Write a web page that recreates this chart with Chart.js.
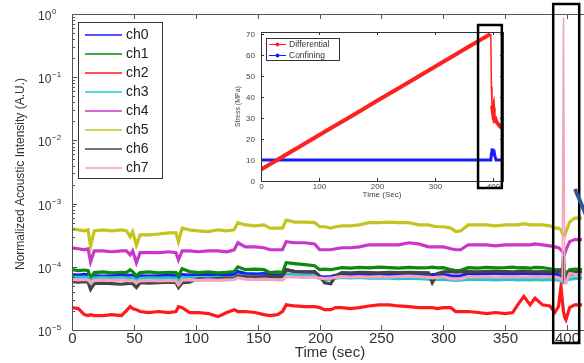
<!DOCTYPE html>
<html>
<head>
<meta charset="utf-8">
<script src="https://cdn.jsdelivr.net/npm/chart.js@4.4.0/dist/chart.umd.min.js"></script>
<style>
	html, body { margin: 0; padding: 0; background: #fff; overflow: hidden; }
	#wrap { position: relative; width: 584px; height: 363px; overflow: hidden; }
	#main { position: absolute; left: 0; top: 0; }
	#inset { position: absolute; left: 228px; top: 22px; background: #fff; }
</style>
</head>
<body>
<div id="wrap">
	<canvas id="main" width="592" height="363"></canvas>
	<canvas id="inset" width="284" height="180"></canvas>
</div>
<script>
/* time axis (sec), shared by all acoustic channels */
var timeSec = [0, 5, 10, 13, 15, 18, 25, 32, 40, 44,
	47, 49, 52, 55, 62, 70, 78, 84, 86, 89,
	95, 102, 110, 118, 125, 131, 134, 140, 148, 155,
	160, 166, 170, 173, 180, 188, 196, 200, 204, 209,
	213, 218, 225, 232, 240, 248, 256, 264, 272, 280,
	288, 291, 295, 300, 306, 310, 314, 320, 328, 335,
	342, 350, 356, 360, 365, 370, 374, 380, 386, 390,
	393, 395, 396, 397, 398, 399, 402, 406, 412];

/* normalized acoustic intensity per channel (A.U.) */
var ch0 = [7.5e-5, 7.4e-5, 7.6e-5, 7.5e-5, 6.3e-5, 7.2e-5, 7.1e-5, 7.2e-5, 7.3e-5, 7.2e-5,
	7.4e-5, 7.2e-5, 6.6e-5, 7.2e-5, 7.1e-5, 7.2e-5, 7.3e-5, 7.2e-5, 6.5e-5, 7.5e-5,
	7.4e-5, 7.5e-5, 7.6e-5, 7.4e-5, 7.5e-5, 7.6e-5, 8.4e-5, 7.8e-5, 7.7e-5, 7.8e-5,
	7.6e-5, 7.4e-5, 7.5e-5, 9.0e-5, 8.4e-5, 8.3e-5, 8.2e-5, 7.0e-5, 6.9e-5, 7.0e-5,
	7.3e-5, 7.5e-5, 7.4e-5, 7.6e-5, 7.5e-5, 7.4e-5, 7.6e-5, 7.5e-5, 7.6e-5, 7.5e-5,
	7.4e-5, 7.5e-5, 7.6e-5, 7.5e-5, 7.2e-5, 7.1e-5, 7.2e-5, 7.8e-5, 7.7e-5, 7.8e-5,
	7.9e-5, 7.8e-5, 7.7e-5, 7.8e-5, 7.9e-5, 7.8e-5, 7.7e-5, 7.8e-5, 7.7e-5, 7.8e-5,
	7.5e-5, 7.2e-5, 6.8e-5, 6.3e-5, 6.6e-5, 7.0e-5, 7.5e-5, 7.6e-5, 7.5e-5];
var ch1 = [9.0e-5, 8.7e-5, 8.9e-5, 8.7e-5, 6.7e-5, 8.1e-5, 8.3e-5, 8.0e-5, 8.2e-5, 8.1e-5,
	9.0e-5, 8.4e-5, 7.2e-5, 8.1e-5, 8.3e-5, 8.0e-5, 8.2e-5, 8.1e-5, 7.2e-5, 9.3e-5,
	8.4e-5, 8.1e-5, 8.3e-5, 8.0e-5, 8.2e-5, 8.4e-5, 1.0e-4, 9.0e-5, 9.2e-5, 9.0e-5,
	8.1e-5, 8.3e-5, 8.1e-5, 1.16e-4, 1.12e-4, 1.08e-4, 1.04e-4, 9.0e-5, 9.2e-5, 9.0e-5,
	9.3e-5, 9.7e-5, 9.5e-5, 9.8e-5, 9.6e-5, 9.9e-5, 9.7e-5, 9.5e-5, 9.8e-5, 9.6e-5,
	9.7e-5, 9.9e-5, 9.6e-5, 9.7e-5, 9.0e-5, 8.7e-5, 8.8e-5, 9.7e-5, 9.5e-5, 9.8e-5,
	9.6e-5, 9.7e-5, 9.9e-5, 9.6e-5, 9.7e-5, 9.5e-5, 9.8e-5, 9.7e-5, 9.3e-5, 9.0e-5,
	9.0e-5, 8.4e-5, 7.6e-5, 7.0e-5, 7.3e-5, 7.8e-5, 9.0e-5, 9.2e-5, 9.0e-5];
var ch2 = [2.26e-5, 2.18e-5, 1.75e-5, 1.69e-5, 1.75e-5, 1.69e-5, 1.69e-5, 1.75e-5, 1.69e-5, 2.03e-5,
	2.35e-5, 2.18e-5, 2.1e-5, 1.96e-5, 1.89e-5, 1.96e-5, 1.89e-5, 1.96e-5, 2.35e-5, 2.26e-5,
	1.89e-5, 1.89e-5, 1.82e-5, 1.63e-5, 1.89e-5, 2.1e-5, 1.96e-5, 1.96e-5, 1.89e-5, 1.75e-5,
	1.69e-5, 1.75e-5, 1.96e-5, 2.5e-5, 2.4e-5, 2.35e-5, 2.35e-5, 2.26e-5, 2.1e-5, 2.1e-5,
	2.26e-5, 2.26e-5, 2.18e-5, 2.26e-5, 2.4e-5, 2.5e-5, 2.5e-5, 2.4e-5, 2.35e-5, 2.26e-5,
	2.26e-5, 2.26e-5, 2.18e-5, 2.26e-5, 2.26e-5, 1.96e-5, 1.96e-5, 1.96e-5, 1.89e-5, 1.82e-5,
	1.89e-5, 1.82e-5, 1.89e-5, 2.5e-5, 3.4e-5, 2.5e-5, 3.2e-5, 2.5e-5, 2.4e-5, 1.89e-5,
	2.35e-5, 4.9e-5, 3.0e-5, 1.96e-5, 1.6e-5, 1.46e-5, 2.26e-5, 2.5e-5, 2.5e-5];
var ch3 = [6.9e-5, 6.8e-5, 6.9e-5, 6.8e-5, 6.0e-5, 6.7e-5, 6.8e-5, 6.7e-5, 6.8e-5, 6.7e-5,
	6.6e-5, 6.7e-5, 6.1e-5, 6.6e-5, 6.7e-5, 6.6e-5, 6.7e-5, 6.6e-5, 5.8e-5, 6.8e-5,
	6.7e-5, 6.6e-5, 6.7e-5, 6.8e-5, 6.7e-5, 6.8e-5, 7.2e-5, 7.1e-5, 7.0e-5, 7.1e-5,
	6.9e-5, 6.8e-5, 6.9e-5, 7.8e-5, 7.4e-5, 7.3e-5, 7.2e-5, 6.5e-5, 6.2e-5, 6.4e-5,
	6.6e-5, 6.8e-5, 6.7e-5, 6.8e-5, 6.6e-5, 6.7e-5, 6.6e-5, 6.5e-5, 6.6e-5, 6.5e-5,
	6.4e-5, 6.3e-5, 6.4e-5, 6.3e-5, 6.2e-5, 6.1e-5, 6.2e-5, 6.3e-5, 6.4e-5, 6.3e-5,
	6.2e-5, 6.3e-5, 6.3e-5, 6.2e-5, 6.3e-5, 6.2e-5, 6.3e-5, 6.2e-5, 6.3e-5, 6.2e-5,
	6.2e-5, 6.0e-5, 5.8e-5, 5.6e-5, 5.7e-5, 6.0e-5, 6.4e-5, 6.5e-5, 6.6e-5];
var ch4 = [2.0e-4, 1.93e-4, 1.86e-4, 1.93e-4, 1.2e-4, 1.79e-4, 1.79e-4, 1.73e-4, 1.79e-4, 1.79e-4,
	1.55e-4, 1.79e-4, 1.16e-4, 1.67e-4, 1.67e-4, 1.67e-4, 1.73e-4, 1.67e-4, 1.29e-4, 1.79e-4,
	1.79e-4, 1.73e-4, 1.79e-4, 1.79e-4, 1.73e-4, 1.86e-4, 2.4e-4, 2.07e-4, 2.07e-4, 2.0e-4,
	1.86e-4, 1.86e-4, 1.86e-4, 2.5e-4, 2.4e-4, 2.4e-4, 2.3e-4, 1.86e-4, 1.86e-4, 1.86e-4,
	1.93e-4, 2.0e-4, 2.0e-4, 2.07e-4, 2.23e-4, 2.23e-4, 2.23e-4, 2.23e-4, 2.4e-4, 2.3e-4,
	2.07e-4, 2.07e-4, 2.07e-4, 2.07e-4, 1.93e-4, 1.86e-4, 1.86e-4, 2.23e-4, 2.23e-4, 2.23e-4,
	2.15e-4, 2.23e-4, 2.23e-4, 2.23e-4, 2.23e-4, 2.23e-4, 2.3e-4, 2.23e-4, 2.15e-4, 2.07e-4,
	2.0e-4, 1.86e-4, 1.75e-4, 1.67e-4, 1.6e-4, 1.86e-4, 2.5e-4, 2.7e-4, 2.7e-4];
var ch5 = [4.0e-4, 3.85e-4, 3.7e-4, 3.85e-4, 2.1e-4, 3.7e-4, 3.85e-4, 3.7e-4, 3.85e-4, 3.7e-4,
	3.0e-4, 3.6e-4, 2.2e-4, 3.2e-4, 3.2e-4, 3.3e-4, 3.45e-4, 3.45e-4, 2.5e-4, 4.1e-4,
	3.85e-4, 3.7e-4, 3.6e-4, 3.85e-4, 3.7e-4, 3.85e-4, 5.0e-4, 4.6e-4, 4.45e-4, 4.6e-4,
	4.1e-4, 4.1e-4, 4.1e-4, 5.5e-4, 5.1e-4, 5.1e-4, 5.0e-4, 4.3e-4, 4.3e-4, 4.1e-4,
	4.3e-4, 4.45e-4, 4.45e-4, 4.6e-4, 5.0e-4, 5.0e-4, 5.1e-4, 5.0e-4, 5.0e-4, 4.6e-4,
	4.6e-4, 4.45e-4, 4.3e-4, 4.3e-4, 4.1e-4, 3.6e-4, 3.7e-4, 4.6e-4, 4.6e-4, 4.6e-4,
	4.45e-4, 4.6e-4, 4.6e-4, 4.6e-4, 4.8e-4, 4.6e-4, 4.6e-4, 4.6e-4, 4.45e-4, 4.1e-4,
	4.1e-4, 3.85e-4, 3.4e-4, 3.2e-4, 3.1e-4, 3.6e-4, 5.1e-4, 5.9e-4, 5.9e-4];
var ch6 = [5.8e-5, 5.7e-5, 5.8e-5, 5.7e-5, 4.4e-5, 5.4e-5, 5.5e-5, 5.4e-5, 5.3e-5, 5.4e-5,
	5.5e-5, 5.4e-5, 4.7e-5, 5.6e-5, 5.5e-5, 5.6e-5, 5.7e-5, 5.6e-5, 4.7e-5, 5.6e-5,
	5.7e-5, 6.5e-5, 6.4e-5, 6.5e-5, 6.6e-5, 6.5e-5, 7.2e-5, 7.0e-5, 6.9e-5, 7.0e-5,
	7.1e-5, 6.9e-5, 7.0e-5, 9.0e-5, 8.4e-5, 8.3e-5, 8.4e-5, 7.2e-5, 5.6e-5, 5.4e-5,
	7.2e-5, 8.1e-5, 8.0e-5, 8.2e-5, 8.1e-5, 8.0e-5, 8.2e-5, 8.1e-5, 8.2e-5, 8.1e-5,
	8.0e-5, 5.6e-5, 7.8e-5, 8.3e-5, 8.4e-5, 8.2e-5, 8.3e-5, 8.4e-5, 8.3e-5, 8.4e-5,
	8.5e-5, 8.4e-5, 8.3e-5, 8.4e-5, 8.5e-5, 8.4e-5, 8.3e-5, 8.4e-5, 8.3e-5, 8.4e-5,
	8.3e-5, 9.0e-5, 8.0e-5, 1.5e-4, 6.8e-5, 6.3e-5, 8.1e-5, 8.2e-5, 8.1e-5];
var ch7 = [6.3e-5, 6.2e-5, 6.3e-5, 6.2e-5, 5.6e-5, 6.1e-5, 6.2e-5, 6.1e-5, 6.2e-5, 6.1e-5,
	6.0e-5, 6.1e-5, 5.6e-5, 6.0e-5, 6.1e-5, 6.0e-5, 6.1e-5, 6.0e-5, 5.2e-5, 6.2e-5,
	6.2e-5, 6.1e-5, 6.2e-5, 6.1e-5, 6.2e-5, 6.3e-5, 6.7e-5, 6.4e-5, 6.3e-5, 6.4e-5,
	6.3e-5, 6.2e-5, 6.2e-5, 7.0e-5, 6.9e-5, 6.8e-5, 6.9e-5, 6.6e-5, 6.5e-5, 6.6e-5,
	6.8e-5, 7.0e-5, 6.9e-5, 7.0e-5, 6.9e-5, 7.0e-5, 6.9e-5, 7.0e-5, 7.1e-5, 7.0e-5,
	6.8e-5, 6.7e-5, 6.8e-5, 6.9e-5, 6.5e-5, 6.4e-5, 6.5e-5, 7.0e-5, 6.9e-5, 7.0e-5,
	6.9e-5, 7.0e-5, 6.9e-5, 7.0e-5, 6.9e-5, 7.0e-5, 6.9e-5, 7.0e-5, 6.9e-5, 6.8e-5,
	6.7e-5, 6.3e-5, 6.0e-5, 0.88, 5.8e-5, 5.6e-5, 7.8e-5, 7.6e-5, 7.5e-5];

var chLabels = ['ch0', 'ch1', 'ch2', 'ch3', 'ch4', 'ch5', 'ch6', 'ch7'];
var chColors = ['#1a1aff', '#0b8a0b', '#ff1a1a', '#1ec8c8', '#c936c9', '#c4c41e', '#444444', '#f4a2bd'];
var xTicksMain = [0, 50, 100, 150, 200, 250, 300, 350, 400];
var yDecades = [-5, -4, -3, -2, -1, 0];

/* inset: stress history (MPa) */
var diffTime = [0, 40, 80, 120, 160, 200, 240, 280, 320, 360, 395, 396, 397, 398, 399, 400, 401, 402, 404, 406, 409, 412, 417];
var diffStress = [5.5, 12.0, 18.6, 25.1, 31.6, 38.2, 44.7, 51.2, 57.8, 64.3, 70.0, 69.0, 45.0, 36.0, 34.0, 35.0, 30.0, 29.0, 29.5, 28.0, 27.0, 26.0, 25.0];
var confTime = [0, 100, 200, 300, 396, 397, 398, 399, 400, 401, 403, 405, 417];
var confStress = [10, 10, 10, 10, 10, 13, 15.5, 14, 12.5, 15, 12, 10, 10];
var insetLabels = ['Differential', 'Confining'];
var insetColors = ['#ff2020', '#1a1aff'];
var xTicksInset = [0, 100, 200, 300, 400];
var yTicksInset = [0, 10, 20, 30, 40, 50, 60, 70];

var FONT = '"Liberation Sans", Arial, sans-serif';

function pts(xs, ys) {
	return xs.map(function(x, i) { return {x: x, y: ys[i]}; });
}

/* short straight stroke (ticks, legend swatches) */
function tick(ctx, x0, y0, x1, y1) {
	ctx.beginPath();
	ctx.moveTo(x0, y0);
	ctx.lineTo(x1, y1);
	ctx.stroke();
}

var mainDecor = {
	id: 'mainDecor',
	afterDraw: function(chart) {
		var ctx = chart.ctx, a = chart.chartArea,
			xs = chart.scales.x, ys = chart.scales.y;
		ctx.save();

		/* axes box */
		ctx.strokeStyle = '#555';
		ctx.lineWidth = 1;
		ctx.strokeRect(Math.round(a.left) + 0.5, Math.round(a.top) + 0.5, a.right - a.left, a.bottom - a.top);

		/* x ticks + labels */
		ctx.fillStyle = '#333';
		ctx.font = '15px ' + FONT;
		ctx.textAlign = 'center';
		ctx.textBaseline = 'middle';
		xTicksMain.forEach(function(t) {
			var px = Math.round(xs.getPixelForValue(t)) + 0.5;
			tick(ctx, px, a.bottom, px, a.bottom - 5);
			tick(ctx, px, a.top, px, a.top + 5);
			ctx.fillText(String(t), px, a.bottom + 9);
		});

		/* y decades, minor ticks and 10^n labels */
		yDecades.forEach(function(e) {
			var py = Math.round(ys.getPixelForValue(Math.pow(10, e))) + 0.5;
			tick(ctx, a.left, py, a.left + 5, py);
			if (e < 0) {
				for (var m = 2; m < 10; m++) {
					var my = Math.round(ys.getPixelForValue(m * Math.pow(10, e))) + 0.5;
					tick(ctx, a.left, my, a.left + 3, my);
				}
			}
			ctx.textAlign = 'left';
			ctx.font = '12px ' + FONT;
			ctx.fillText('10', 38, py + 2);
			ctx.font = '8px ' + FONT;
			ctx.fillText(e === 0 ? '0' : '\u2212' + Math.abs(e), 52, py - 3);
		});

		/* axis titles */
		ctx.textAlign = 'center';
		ctx.font = '15px ' + FONT;
		ctx.fillText('Time (sec)', 330, 353);
		ctx.save();
		ctx.translate(21, 174);
		ctx.rotate(-Math.PI / 2);
		ctx.font = '12px ' + FONT;
		ctx.fillText('Normalized Acoustic Intensity (A.U.)', 0, 0);
		ctx.restore();

		/* legend */
		ctx.fillStyle = '#fff';
		ctx.fillRect(78, 22, 84, 156);
		ctx.strokeStyle = '#333';
		ctx.strokeRect(78.5, 22.5, 84, 156);
		ctx.font = '14px ' + FONT;
		ctx.textAlign = 'left';
		ctx.lineWidth = 1.5;
		chLabels.forEach(function(lab, i) {
			var ly = 35 + i * 19;
			ctx.strokeStyle = chColors[i];
			tick(ctx, 85, ly, 122, ly);
			ctx.fillStyle = '#222';
			ctx.fillText(lab, 126, ly);
		});

		/* highlight box around the failure event */
		ctx.strokeStyle = '#000';
		ctx.lineWidth = 2.5;
		var bx0 = xs.getPixelForValue(388.7), bx1 = xs.getPixelForValue(409.7);
		ctx.strokeRect(bx0, a.top - 10, bx1 - bx0, a.bottom - a.top + 23);

		/* tail of the annotation arrow */
		ctx.strokeStyle = '#2f5597';
		ctx.lineWidth = 4;
		tick(ctx, 575, 189, 586, 215);

		ctx.restore();
	}
};

var insetDecor = {
	id: 'insetDecor',
	afterDraw: function(chart) {
		var ctx = chart.ctx, a = chart.chartArea,
			xs = chart.scales.x, ys = chart.scales.y;
		ctx.save();
		ctx.strokeStyle = '#333';
		ctx.lineWidth = 1;
		ctx.strokeRect(Math.round(a.left) + 0.5, Math.round(a.top) + 0.5, a.right - a.left, a.bottom - a.top);

		ctx.fillStyle = '#444';
		ctx.font = '8px ' + FONT;
		ctx.textBaseline = 'middle';
		ctx.textAlign = 'center';
		xTicksInset.forEach(function(t) {
			var px = Math.round(xs.getPixelForValue(t)) + 0.5;
			tick(ctx, px, a.bottom, px, a.bottom - 3);
			tick(ctx, px, a.top, px, a.top + 3);
			ctx.fillText(String(t), px, a.bottom + 6);
		});
		ctx.textAlign = 'right';
		yTicksInset.forEach(function(v) {
			var py = Math.round(ys.getPixelForValue(v)) + 0.5;
			tick(ctx, a.left, py, a.left + 3, py);
			tick(ctx, a.right, py, a.right - 3, py);
			ctx.fillText(String(v), a.left - 6, py);
		});

		ctx.textAlign = 'center';
		ctx.fillText('Time (Sec)', (a.left + a.right) / 2, a.bottom + 14);
		ctx.save();
		ctx.translate(10, (a.top + a.bottom) / 2);
		ctx.rotate(-Math.PI / 2);
		ctx.font = '7px ' + FONT;
		ctx.fillText('Stress (MPa)', 0, 0);
		ctx.restore();

		/* legend */
		ctx.fillStyle = '#fff';
		ctx.fillRect(38, 16, 73, 22);
		ctx.strokeStyle = '#333';
		ctx.strokeRect(38.5, 16.5, 73, 22);
		ctx.font = '8.5px ' + FONT;
		ctx.textAlign = 'left';
		insetLabels.forEach(function(lab, i) {
			var ly = 22 + i * 11 + 0.5;
			ctx.strokeStyle = insetColors[i];
			ctx.fillStyle = insetColors[i];
			ctx.lineWidth = 1;
			tick(ctx, 41, ly, 58, ly);
			ctx.beginPath();
			ctx.arc(49.5, ly, 2, 0, Math.PI * 2);
			ctx.fill();
			ctx.fillStyle = '#333';
			ctx.fillText(lab, 61, ly);
		});

		/* highlight box */
		ctx.strokeStyle = '#000';
		ctx.lineWidth = 2.5;
		var bx0 = xs.getPixelForValue(374), bx1 = xs.getPixelForValue(415);
		ctx.strokeRect(bx0, a.top - 7, bx1 - bx0, a.bottom - a.top + 14);
		ctx.restore();
	}
};

var channels = [ch0, ch1, ch2, ch3, ch4, ch5, ch6, ch7];

new Chart(document.getElementById('main').getContext('2d'), {
	type: 'line',
	data: {
		datasets: channels.map(function(vals, i) {
			return {
				label: chLabels[i],
				data: pts(timeSec, vals),
				borderColor: chColors[i],
				borderWidth: 3.2,
				pointRadius: 0,
				tension: 0,
				order: 7 - i,
				/* the short burst at failure is a thin trace */
				segment: {
					borderWidth: function(c) { return (c.p0.parsed.y > 1e-3 || c.p1.parsed.y > 1e-3) ? 1.6 : 3.2; }
				}
			};
		})
	},
	options: {
		responsive: false,
		animation: false,
		events: [],
		layout: {padding: {left: 72, top: 14, right: 5, bottom: 33}},
		plugins: {legend: {display: false}, tooltip: {enabled: false}},
		scales: {
			x: {type: 'linear', min: 0, max: 416, display: false},
			y: {type: 'logarithmic', min: 1e-5, max: 1, display: false}
		}
	},
	plugins: [mainDecor]
});

new Chart(document.getElementById('inset').getContext('2d'), {
	type: 'line',
	data: {
		datasets: [{
			label: insetLabels[0],
			data: pts(diffTime, diffStress),
			borderColor: insetColors[0],
			backgroundColor: insetColors[0],
			borderWidth: 4,
			pointRadius: 0,
			segment: {
				borderWidth: function(c) { return (c.p0.parsed.x >= 395 && c.p1.parsed.x <= 398) ? 1.5 : 4; }
			}
		}, {
			label: insetLabels[1],
			data: pts(confTime, confStress),
			borderColor: insetColors[1],
			borderWidth: 3,
			pointRadius: 0
		}]
	},
	options: {
		responsive: false,
		animation: false,
		events: [],
		layout: {padding: {left: 33, top: 10, right: 9, bottom: 21}},
		plugins: {legend: {display: false}, tooltip: {enabled: false}},
		scales: {
			x: {type: 'linear', min: 0, max: 417, display: false},
			y: {type: 'linear', min: 0, max: 71, display: false}
		}
	},
	plugins: [insetDecor]
});
</script>
</body>
</html>
